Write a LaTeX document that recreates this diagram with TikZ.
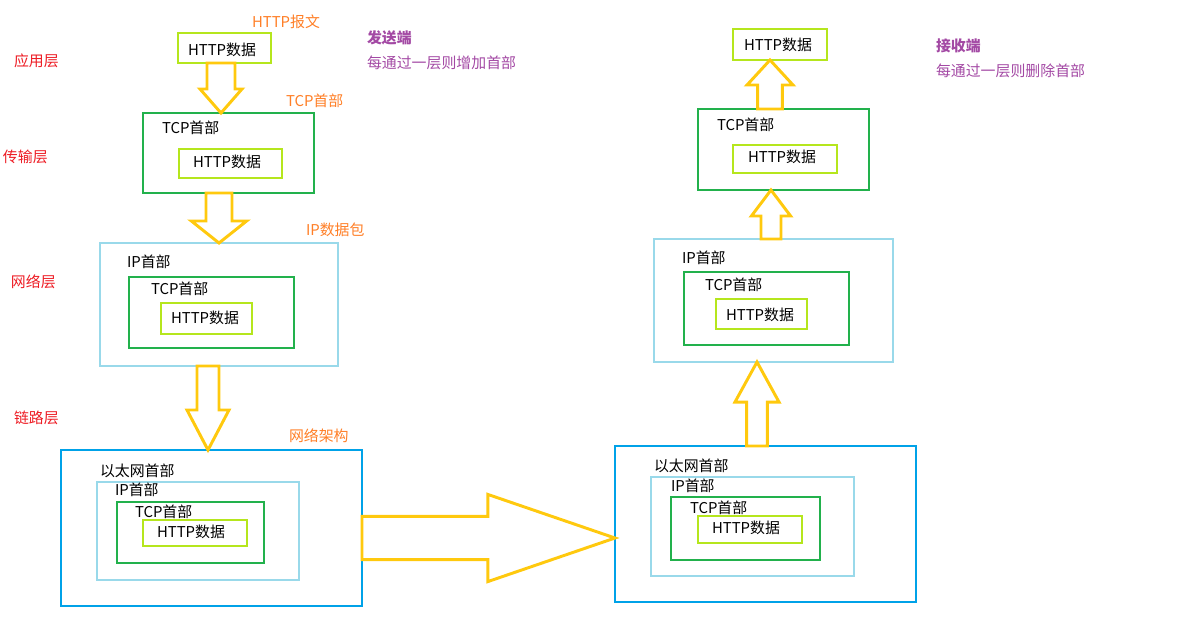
\documentclass[tikz,border=0pt]{standalone}
\usepackage{fontspec}
\setmainfont{Noto Sans CJK SC}
\usetikzlibrary{calc,fit}

\definecolor{limeg}{HTML}{B5E61D}
\definecolor{grn}{HTML}{22B14C}
\definecolor{ltblue}{HTML}{99D9EA}
\definecolor{blu}{HTML}{00A2E8}
\definecolor{gold}{HTML}{FFC90E}
\definecolor{orng}{HTML}{FF7F27}
\definecolor{rd}{HTML}{ED1C24}
\definecolor{purp}{HTML}{A349A4}
\newcommand\lblfont{\fontsize{10.6pt}{12pt}\selectfont}

\begin{document}
\begin{tikzpicture}[x=.025cm,y=-.025cm,line width=2.1pt,
  every node/.style={font=\lblfont,inner sep=0pt,outer sep=0pt},
  httpbox/.style={draw=limeg},
  tcpbox/.style={draw=grn},
  ipbox/.style={draw=ltblue},
  ethbox/.style={draw=blu},
  lbl/.style={anchor=west},
  note/.style={anchor=west,text=orng},
  layer/.style={anchor=west,text=rd},
  side/.style={anchor=west,text=purp},
  sidebold/.style={side,font=\lblfont\bfseries},
  fat/.style n args={3}{draw=gold,line join=miter,
    to path={($(\tikztostart)!#1!90:(\tikztotarget)$)
      -- ($(\tikztotarget)!#3!(\tikztostart)!#1!90:(\tikztotarget)$)
      -- ($(\tikztotarget)!#3!(\tikztostart)!#2!90:(\tikztotarget)$)
      -- (\tikztotarget)
      -- ($(\tikztotarget)!#3!(\tikztostart)!#2!-90:(\tikztotarget)$)
      -- ($(\tikztotarget)!#3!(\tikztostart)!#1!-90:(\tikztotarget)$)
      -- ($(\tikztostart)!#1!-90:(\tikztotarget)$) -- cycle}}]
  \useasboundingbox (0,0) rectangle (1188,641);

  \node[layer] (app-l) at (14,61) {应用层};
  \node[layer] (tra-l) at (3,157) {传输层};
  \node[layer] (net-l) at (11,282) {网络层};
  \node[layer] (lnk-l) at (14,418) {链路层};

  \node[note] (msg) at (252,22) {HTTP报文};
  \node[note] (seg) at (286,101) {TCP首部};
  \node[note] (pkt) at (306,230) {IP数据包};
  \node[note] (frm) at (289,436) {网络架构};

  \node[sidebold] (snd) at (367,38) {发送端};
  \node[side] (snd2) at (367,63) {每通过一层则增加首部};
  \node[sidebold] (rcv) at (936,46) {接收端};
  \node[side] (rcv2) at (936,71) {每通过一层则删除首部};

  % sender
  \node[httpbox,fit={(178,33) (271,63)}] (app) {};
  \node (appd) at (222,50) {HTTP数据};

  \node[tcpbox,fit={(143,113) (314,193)}] (tcp1) {};
  \node[lbl] (tcp1h) at (162,128) {TCP首部};
  \node[httpbox,fit={(179,149) (282,178)}] (tcp1b) {};
  \node (tcp1d) at (227,162) {HTTP数据};

  \node[ipbox,fit={(100,243) (338,366)}] (ip1) {};
  \node[lbl] (ip1h) at (127,262) {IP首部};
  \node[tcpbox,fit={(129,277) (294,348)}] (ip1t) {};
  \node[lbl] (ip1th) at (151,289) {TCP首部};
  \node[httpbox,fit={(161,303) (252,334)}] (ip1b) {};
  \node (ip1d) at (205,318) {HTTP数据};

  \node[ethbox,fit={(61,450) (362,606)}] (eth1) {};
  \node[lbl] (eth1h) at (100,471) {以太网首部};
  \node[ipbox,fit={(97,482) (299,580)}] (eth1i) {};
  \node[lbl] (eth1ih) at (115,490) {IP首部};
  \node[tcpbox,fit={(117,502) (264,563)}] (eth1t) {};
  \node[lbl] (eth1th) at (135,512) {TCP首部};
  \node[httpbox,fit={(143,520) (247,546)}] (eth1b) {};
  \node (eth1d) at (191,532) {HTTP数据};

  % receiver
  \node[httpbox,fit={(733,29) (827,60)}] (top) {};
  \node (topd) at (778,45) {HTTP数据};

  \node[tcpbox,fit={(698,109) (869,190)}] (tcp2) {};
  \node[lbl] (tcp2h) at (717,125) {TCP首部};
  \node[httpbox,fit={(733,145) (837,173)}] (tcp2b) {};
  \node (tcp2d) at (782,157) {HTTP数据};

  \node[ipbox,fit={(654,239) (893,362)}] (ip2) {};
  \node[lbl] (ip2h) at (682,258) {IP首部};
  \node[tcpbox,fit={(684,272) (849,345)}] (ip2t) {};
  \node[lbl] (ip2th) at (705,285) {TCP首部};
  \node[httpbox,fit={(716,299) (807,329)}] (ip2b) {};
  \node (ip2d) at (760,315) {HTTP数据};

  \node[ethbox,fit={(615,446) (916,602)}] (eth2) {};
  \node[lbl] (eth2h) at (654,466) {以太网首部};
  \node[ipbox,fit={(651,477) (854,576)}] (eth2i) {};
  \node[lbl] (eth2ih) at (671,486) {IP首部};
  \node[tcpbox,fit={(671,497) (820,560)}] (eth2t) {};
  \node[lbl] (eth2th) at (690,508) {TCP首部};
  \node[httpbox,fit={(698,516) (802,543)}] (eth2b) {};
  \node (eth2d) at (746,528) {HTTP数据};

  \coordinate (ax1) at (221,0);
  \coordinate (ax2) at (219,0);
  \coordinate (ax3) at (208,0);
  \coordinate (ay4) at (0,538);
  \coordinate (ax5) at (757,0);
  \coordinate (ax6) at (771,0);
  \coordinate (ax7) at (770,0);

  \draw[fat={.35cm}{.525cm}{.6cm}] (app.south -| ax1) to (tcp1.north -| ax1);
  \draw[fat={.325cm}{.69cm}{.55cm}] (tcp1.south -| ax2) to (ip1.north -| ax2);
  \draw[fat={.275cm}{.525cm}{1cm}] (ip1.south -| ax3) to (eth1.north -| ax3);
  \draw[fat={.54cm}{1.09cm}{3.18cm}] (eth1.east |- ay4) to (eth2.west |- ay4);
  \draw[fat={.26cm}{.55cm}{1cm}] (eth2.north -| ax5) to (ip2.south -| ax5);
  \draw[fat={.25cm}{.49cm}{.65cm}] (ip2.north -| ax6) to (tcp2.south -| ax6);
  \draw[fat={.31cm}{.575cm}{.625cm}] (tcp2.north -| ax7) to (top.south -| ax7);
\end{tikzpicture}
\end{document}
